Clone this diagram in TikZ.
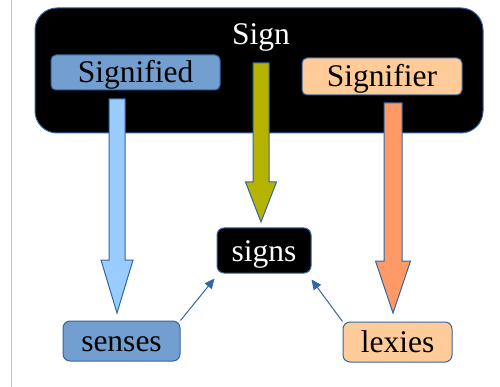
\documentclass[tikz,border=0pt]{standalone}
\usepackage{fontspec}
\setmainfont{Liberation Serif}
\usetikzlibrary{arrows.meta,calc}

\definecolor{edgeblue}{HTML}{3465A4}
\definecolor{skyfill}{HTML}{729FCF}
\definecolor{peach}{HTML}{FFCC99}
\definecolor{lightblue}{HTML}{99CCFF}
\definecolor{salmon}{HTML}{FF9966}
\definecolor{olive}{HTML}{B3B300}

% vertical block arrow: x, y top, y of head base, y tip, shaft half width, head half width, style
\newcommand\blockarrow[7]{%
  \draw[#7] ({#1-#5},#2) -- ({#1+#5},#2) -- ({#1+#5},#3) -- ({#1+#6},#3)
    -- (#1,#4) -- ({#1-#6},#3) -- ({#1-#5},#3) -- cycle;}

\tikzset{
  label font/.style={font=\fontsize{31.5}{36}\selectfont},
  tagbox/.style={label font, draw=edgeblue, line width=1pt, rounded corners=5pt,
    inner sep=0pt, text=black, text height=21pt, text depth=0pt},
  blockarr/.style={draw=edgeblue, line width=1pt, line join=miter},
  link/.style={draw=edgeblue, line width=1pt,
    -{Triangle[length=10pt,width=9pt]}},
}

\begin{document}
\begin{tikzpicture}[x=1pt,y=-1pt]
  \useasboundingbox (0,0) rectangle (500,387);
  \fill[white] (0,0) rectangle (500,387);

  % page edge
  \draw[gray!45, line width=1pt] (11,0) -- (11,387);

  % the Sign frame
  \node[draw=edgeblue, fill=black, line width=1pt, rounded corners=22pt,
        minimum width=448pt, minimum height=125pt, inner sep=0pt]
        (sign) at (259,70.5) {};
  \node[label font, text=white, anchor=base] (signlabel) at (261,45) {Sign};

  \node[tagbox, fill=skyfill, minimum width=169pt, minimum height=35pt]
        (signified) at (135.5,72.5) {Signified};
  \node[tagbox, fill=peach, minimum width=160pt, minimum height=37pt]
        (signifier) at (382,76.5) {Signifier};

  \node[tagbox, fill=black, text=white, rounded corners=7pt,
        minimum width=94pt, minimum height=45pt] (signs) at (264,250.5) {signs};
  \node[tagbox, fill=skyfill, rounded corners=7pt,
        minimum width=117pt, minimum height=40pt] (senses) at (121.5,341) {senses};
  \node[tagbox, fill=peach, rounded corners=7pt,
        minimum width=109pt, minimum height=40pt] (lexies) at (397.5,342) {lexies};

  % block arrows out of the frame
  \blockarrow{117}{99}{260}{313}{8}{16}{blockarr, fill=lightblue}
  \blockarrow{261}{63}{182}{222}{8}{15.5}{blockarr, fill=olive}
  \blockarrow{393}{103}{261}{313}{9}{17.5}{blockarr, fill=salmon}

  % links into signs
  \coordinate (inleft) at ($(signs.south west)+(-2,5)$);
  \coordinate (inright) at ($(signs.south east)+(0,6)$);
  \draw[link] (senses.north east) -- (inleft);
  \draw[link] (lexies.north west) -- (inright);
\end{tikzpicture}
\end{document}
